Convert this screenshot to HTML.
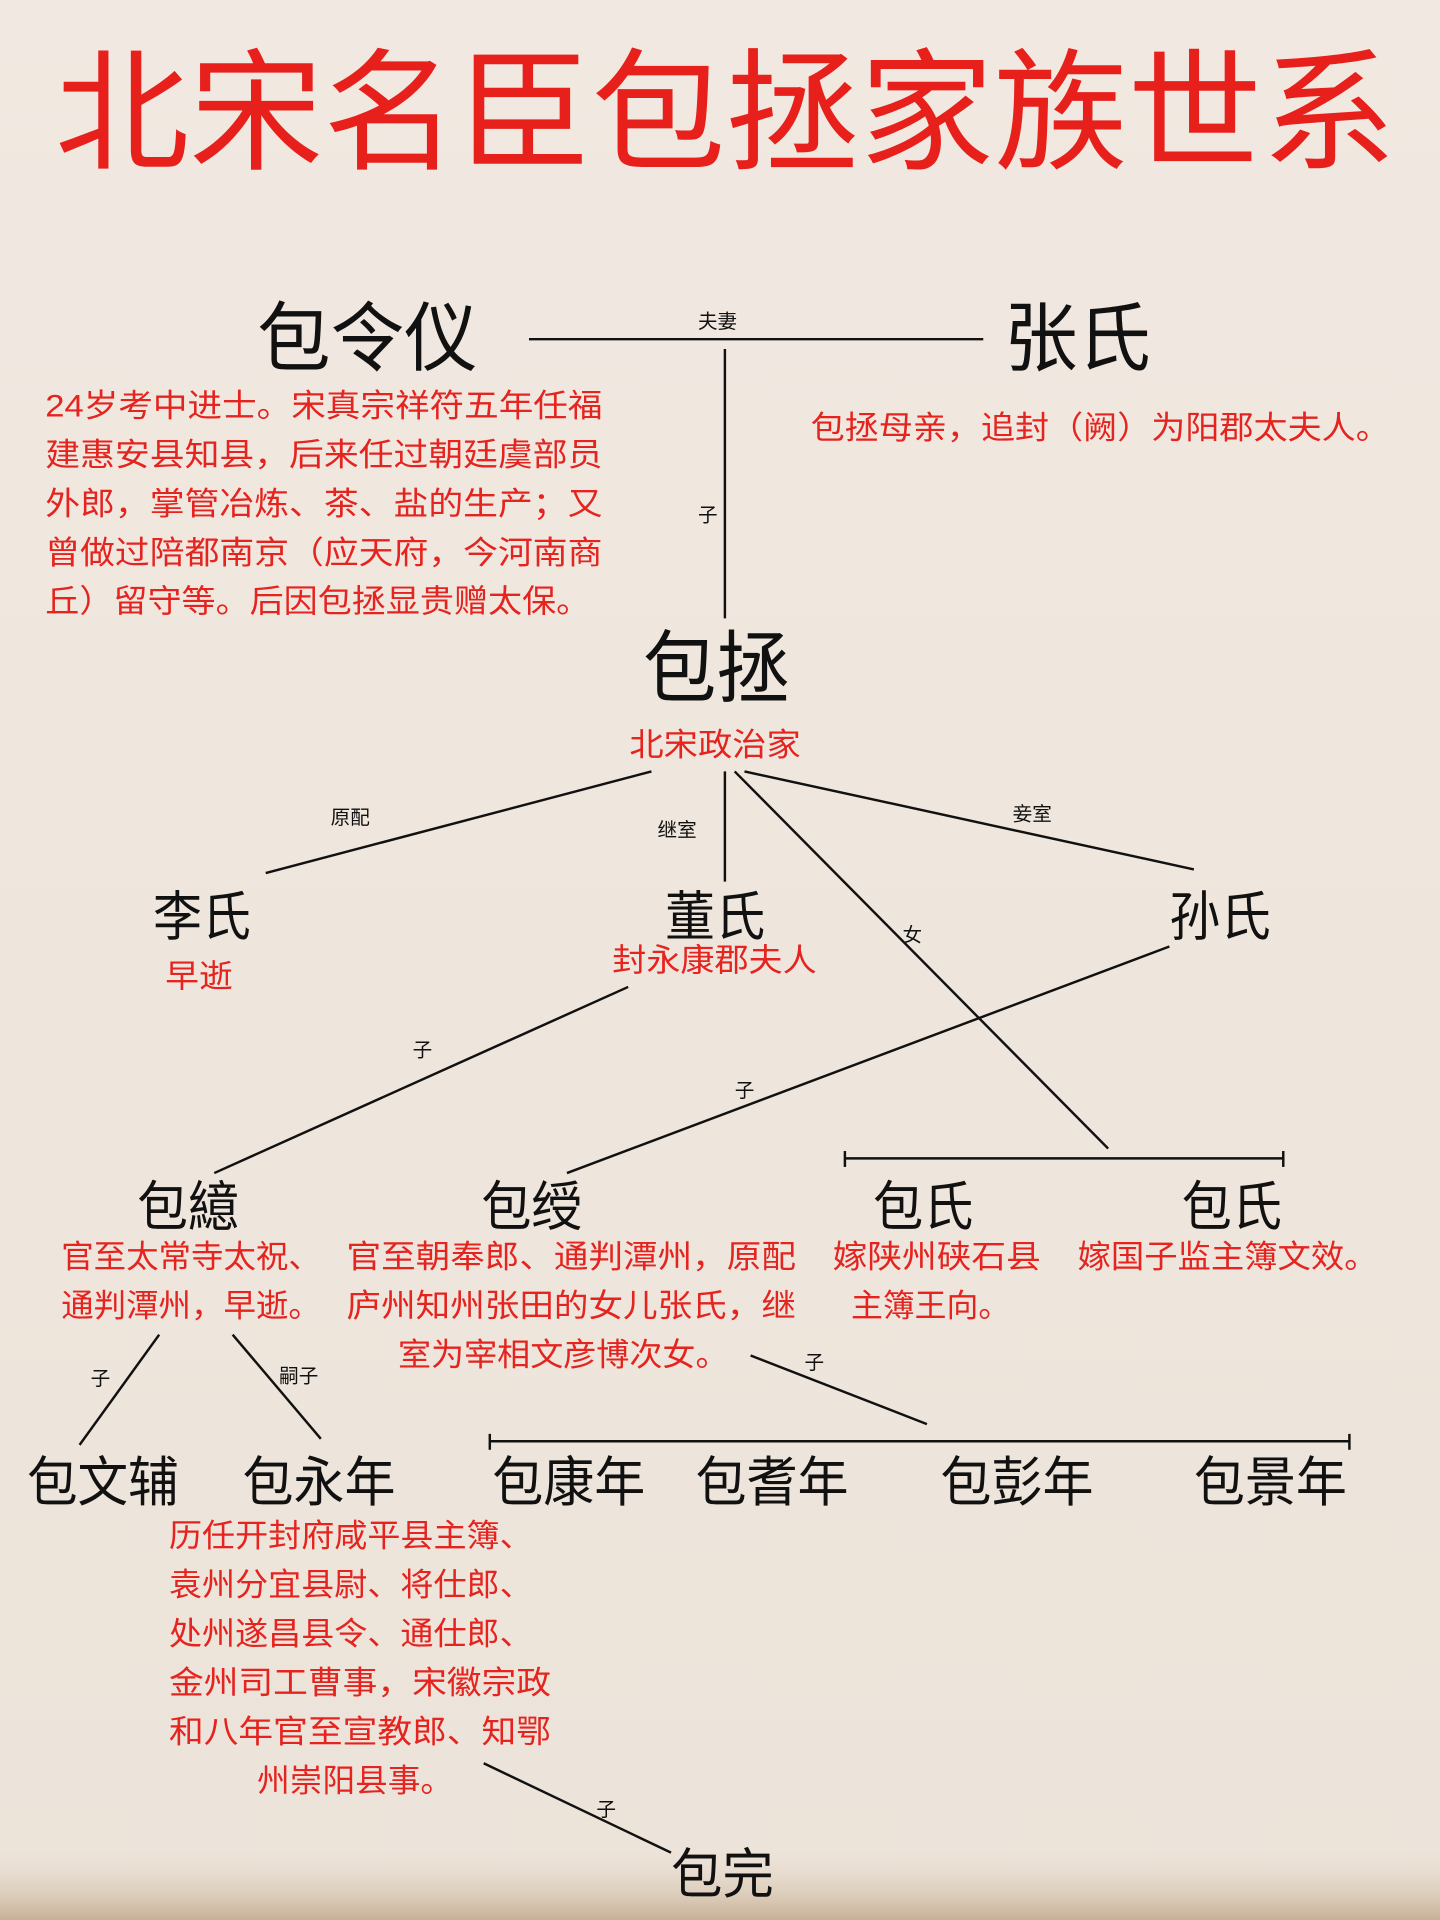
<!DOCTYPE html>
<html><head><meta charset="utf-8">
<style>
html,body{margin:0;padding:0;width:1440px;height:1920px;overflow:hidden;background:#efe7df;}
svg{display:block;}
text{font-family:"Liberation Sans","Noto Sans CJK SC",sans-serif;}
.n{fill:#111;font-size:44px;}
.r{fill:#e5231f;font-size:26px;}
.s{fill:#111;font-size:16px;}
line{stroke:#111;stroke-width:2;}
</style></head>
<body>
<svg width="1440" height="1920" viewBox="0 0 1176 1568" xmlns="http://www.w3.org/2000/svg">
<defs>
<linearGradient id="bg" x1="0" y1="0" x2="0" y2="1">
<stop offset="0" stop-color="#f1e9e1"/><stop offset="1" stop-color="#ece3d9"/>
</linearGradient>
<linearGradient id="bt" x1="0" y1="0" x2="0" y2="1">
<stop offset="0" stop-color="#e6d9c8" stop-opacity="0"/><stop offset="1" stop-color="#b89a78" stop-opacity="0.7"/>
</linearGradient>
</defs>
<rect width="1176" height="1568" fill="url(#bg)"/>
<rect y="1510" width="1176" height="58" fill="url(#bt)"/>

<text x="45" y="130" fill="#e8201c" font-size="108" textLength="1095" lengthAdjust="spacingAndGlyphs">北宋名臣包拯家族世系</text>

<text x="210" y="298" class="n" style="font-size:62px" textLength="180" lengthAdjust="spacingAndGlyphs">包令仪</text>
<line x1="432" y1="277" x2="803" y2="277"/>
<text x="570" y="268" class="s">夫妻</text>
<text x="820" y="298" class="n" style="font-size:62px" textLength="120" lengthAdjust="spacingAndGlyphs">张氏</text>

<g class="r">
<text x="37" y="340" textLength="455" lengthAdjust="spacingAndGlyphs">24岁考中进士。宋真宗祥符五年任福</text>
<text x="37" y="380" textLength="455" lengthAdjust="spacingAndGlyphs">建惠安县知县，后来任过朝廷虞部员</text>
<text x="37" y="420" textLength="455" lengthAdjust="spacingAndGlyphs">外郎，掌管冶炼、茶、盐的生产；又</text>
<text x="37" y="460" textLength="455" lengthAdjust="spacingAndGlyphs">曾做过陪都南京（应天府，今河南商</text>
<text x="37" y="500" textLength="445" lengthAdjust="spacingAndGlyphs">丘）留守等。后因包拯显贵赠太保。</text>
<text x="662" y="358" textLength="473" lengthAdjust="spacingAndGlyphs">包拯母亲，追封（阙）为阳郡太夫人。</text>
</g>

<line x1="592" y1="285" x2="592" y2="505"/>
<text x="570" y="426" class="s">子</text>

<text x="525" y="568" class="n" style="font-size:64px" textLength="120" lengthAdjust="spacingAndGlyphs">包拯</text>
<text x="514" y="617" class="r" textLength="140" lengthAdjust="spacingAndGlyphs">北宋政治家</text>

<line x1="532" y1="630" x2="217" y2="713"/>
<text x="270" y="673" class="s">原配</text>
<line x1="592" y1="630" x2="592" y2="720"/>
<text x="537" y="683" class="s">继室</text>
<line x1="600" y1="630" x2="905" y2="938"/>
<text x="737" y="769" class="s">女</text>
<line x1="608" y1="630" x2="975" y2="710"/>
<text x="827" y="670" class="s">妾室</text>

<text x="125" y="764" class="n" textLength="80" lengthAdjust="spacingAndGlyphs">李氏</text>
<text x="135" y="806" class="r" textLength="55" lengthAdjust="spacingAndGlyphs">早逝</text>
<text x="543" y="764" class="n" textLength="82" lengthAdjust="spacingAndGlyphs">董氏</text>
<text x="500" y="793" class="r" textLength="167" lengthAdjust="spacingAndGlyphs">封永康郡夫人</text>
<text x="955" y="764" class="n" textLength="83" lengthAdjust="spacingAndGlyphs">孙氏</text>

<line x1="513" y1="806" x2="175" y2="958"/>
<text x="337" y="863" class="s">子</text>
<line x1="955" y1="773" x2="463" y2="958"/>
<text x="600" y="896" class="s">子</text>

<line x1="690" y1="946" x2="1048" y2="946"/>
<line x1="690" y1="940" x2="690" y2="953"/>
<line x1="1048" y1="940" x2="1048" y2="953"/>

<text x="112" y="1001" class="n" textLength="83" lengthAdjust="spacingAndGlyphs">包繶</text>
<text x="393" y="1001" class="n" textLength="82" lengthAdjust="spacingAndGlyphs">包绶</text>
<text x="713" y="1001" class="n" textLength="82" lengthAdjust="spacingAndGlyphs">包氏</text>
<text x="965" y="1001" class="n" textLength="82" lengthAdjust="spacingAndGlyphs">包氏</text>

<g class="r">
<text x="50" y="1035" textLength="212" lengthAdjust="spacingAndGlyphs">官至太常寺太祝、</text>
<text x="50" y="1075" textLength="212" lengthAdjust="spacingAndGlyphs">通判潭州，早逝。</text>
<text x="283" y="1035" textLength="367" lengthAdjust="spacingAndGlyphs">官至朝奉郎、通判潭州，原配</text>
<text x="283" y="1075" textLength="367" lengthAdjust="spacingAndGlyphs">庐州知州张田的女儿张氏，继</text>
<text x="325" y="1115" textLength="270" lengthAdjust="spacingAndGlyphs">室为宰相文彦博次女。</text>
<text x="680" y="1035" textLength="170" lengthAdjust="spacingAndGlyphs">嫁陕州硖石县</text>
<text x="695" y="1075" textLength="130" lengthAdjust="spacingAndGlyphs">主簿王向。</text>
<text x="880" y="1035" textLength="245" lengthAdjust="spacingAndGlyphs">嫁国子监主簿文效。</text>
</g>

<line x1="130" y1="1090" x2="65" y2="1180"/>
<text x="74" y="1131" class="s">子</text>
<line x1="190" y1="1090" x2="262" y2="1175"/>
<text x="228" y="1129" class="s">嗣子</text>
<line x1="613" y1="1107" x2="757" y2="1163"/>
<text x="657" y="1118" class="s">子</text>

<line x1="400" y1="1177" x2="1102" y2="1177"/>
<line x1="400" y1="1171" x2="400" y2="1184"/>
<line x1="1102" y1="1171" x2="1102" y2="1184"/>

<g class="n">
<text x="22" y="1226" textLength="124" lengthAdjust="spacingAndGlyphs">包文辅</text>
<text x="198" y="1226" textLength="125" lengthAdjust="spacingAndGlyphs">包永年</text>
<text x="402" y="1226" textLength="125" lengthAdjust="spacingAndGlyphs">包康年</text>
<text x="568" y="1226" textLength="125" lengthAdjust="spacingAndGlyphs">包耆年</text>
<text x="768" y="1226" textLength="125" lengthAdjust="spacingAndGlyphs">包彭年</text>
<text x="975" y="1226" textLength="125" lengthAdjust="spacingAndGlyphs">包景年</text>
</g>

<g class="r">
<text x="138" y="1263" textLength="297" lengthAdjust="spacingAndGlyphs">历任开封府咸平县主簿、</text>
<text x="138" y="1303" textLength="297" lengthAdjust="spacingAndGlyphs">袁州分宜县尉、将仕郎、</text>
<text x="138" y="1343" textLength="297" lengthAdjust="spacingAndGlyphs">处州遂昌县令、通仕郎、</text>
<text x="138" y="1383" textLength="312" lengthAdjust="spacingAndGlyphs">金州司工曹事，宋徽宗政</text>
<text x="138" y="1423" textLength="312" lengthAdjust="spacingAndGlyphs">和八年官至宣教郎、知鄂</text>
<text x="210" y="1463" textLength="160" lengthAdjust="spacingAndGlyphs">州崇阳县事。</text>
</g>

<line x1="395" y1="1440" x2="548" y2="1513"/>
<text x="487" y="1483" class="s">子</text>
<text x="548" y="1546" class="n" textLength="84" lengthAdjust="spacingAndGlyphs">包完</text>
</svg>
</body></html>
